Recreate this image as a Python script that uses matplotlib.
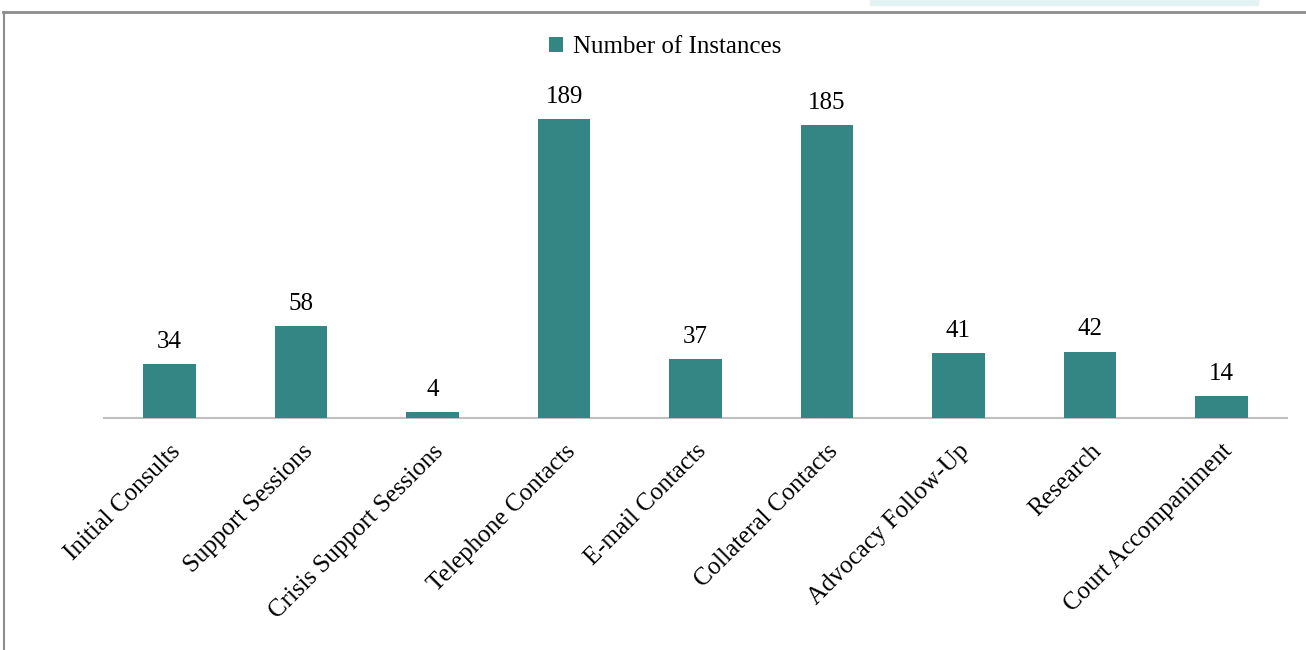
import matplotlib.pyplot as plt
from matplotlib.lines import Line2D
from matplotlib.patches import Rectangle

categories = ["Initial Consults", "Support Sessions", "Crisis Support Sessions",
              "Telephone Contacts", "E-mail Contacts", "Collateral Contacts",
              "Advocacy Follow-Up", "Research", "Court Accompaniment"]
values = [34, 58, 4, 189, 37, 185, 41, 42, 14]

plt.rcParams['font.family'] = ['Liberation Serif', 'DejaVu Serif']

W, H = 1306, 650
fig = plt.figure(figsize=(W / 100, H / 100), dpi=100)

# frame of the chart area (top and left edges only visible)
fig.add_artist(Line2D([3 / W, 1], [1 - 11.5 / H, 1 - 11.5 / H], color='#8c8c8c', lw=2))
fig.add_artist(Line2D([3.5 / W, 3.5 / W], [0, 1 - 11.5 / H], color='#8c8c8c', lw=1.5))
fig.add_artist(Rectangle((870 / W, 1 - 5 / H), 388 / W, 5 / H, color='#e3f3f3'))

ax = fig.add_axes([104 / W, (H - 418) / H, 1183 / W, 316.4 / H])
x = range(len(categories))
bars = ax.bar(x, values, width=0.40, color='#348684', label='Number of Instances', zorder=3)
ax.set_xlim(-0.5, len(categories) - 0.5)
ax.set_ylim(0, 200)

for b, v in zip(bars, values):
    ax.annotate(str(v), (b.get_x() + b.get_width() / 2, v), xytext=(0, 8),
                textcoords='offset points', ha='center', va='bottom', fontsize=18)

ax.set_xticks(list(x))
ax.set_xticklabels(categories, rotation=45, ha='right', rotation_mode='anchor', fontsize=18)
ax.tick_params(axis='x', length=0, pad=16)
ax.set_yticks([])
for s in ['top', 'right', 'left']:
    ax.spines[s].set_visible(False)
ax.spines['bottom'].set_color('#bfbfbf')
ax.spines['bottom'].set_linewidth(1.5)

fig.legend(loc='center', bbox_to_anchor=(665 / W, 1 - 47 / H), frameon=False, fontsize=18,
           handlelength=0.55, handleheight=0.55, handletextpad=0.4)

fig.savefig('out.png', dpi=100)
